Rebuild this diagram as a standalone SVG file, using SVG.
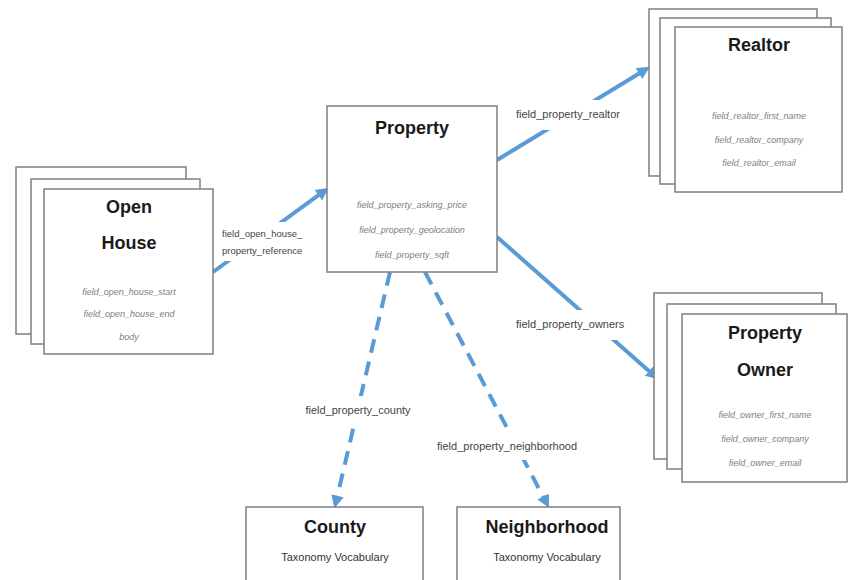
<svg xmlns="http://www.w3.org/2000/svg" width="848" height="580" viewBox="0 0 848 580">
<style>
.box{fill:#fff;stroke:#7f7f7f;stroke-width:1.5}
.title{font-family:"Liberation Sans",Arial,sans-serif;font-weight:bold;font-size:18px;fill:#1a1a1a;text-anchor:middle}
.field{font-family:"Liberation Sans",Arial,sans-serif;font-style:italic;font-size:9px;fill:#808080;text-anchor:middle}
.sub{font-family:"Liberation Sans",Arial,sans-serif;font-size:11px;fill:#333;text-anchor:middle}
.lbl{font-family:"Liberation Sans",Arial,sans-serif;font-size:11px;fill:#444}
.edge{fill:none;stroke:#5b9bd5;stroke-width:4}
.dash{stroke-dasharray:14 9}
.bg{fill:#fff}
</style>
<defs>
<marker id="ah" viewBox="0 0 10 10" refX="0.5" refY="5" markerWidth="3.2" markerHeight="3.2" orient="auto" markerUnits="strokeWidth">
<path d="M0,0 L10,5 L0,10 z" fill="#5b9bd5"/>
</marker>
</defs>
<g id="connectors">
<line class="edge" x1="213" y1="272" x2="318.9" y2="194.9" marker-end="url(#ah)"/>
<line class="edge" x1="497" y1="160" x2="639.5" y2="73.2" marker-end="url(#ah)"/>
<line class="edge" x1="497" y1="237" x2="649.5" y2="371.4" marker-end="url(#ah)"/>
<line class="edge dash" x1="390" y1="272" x2="337.3" y2="496.3" marker-end="url(#ah)"/>
<line class="edge dash" x1="425" y1="272" x2="543.4" y2="497.1" marker-end="url(#ah)"/>
<rect class="bg" x="218" y="222" width="86" height="39"/>
<text class="lbl" x="222" y="237" style="font-size:9.5px">field_open_house_</text>
<text class="lbl" x="222" y="254" style="font-size:9.5px">property_reference</text>
<rect class="bg" x="511" y="100" width="124" height="30"/>
<text class="lbl" x="516" y="118">field_property_realtor</text>
<rect class="bg" x="511" y="310" width="120" height="30"/>
<text class="lbl" x="516" y="328">field_property_owners</text>
<rect class="bg" x="294" y="396" width="128" height="28"/>
<text class="lbl" x="358" y="414" text-anchor="middle">field_property_county</text>
<rect class="bg" x="434" y="432" width="162" height="28"/>
<text class="lbl" x="437" y="450">field_property_neighborhood</text>
</g>
<g id="property">
<rect class="box" x="327" y="106" width="170" height="166"/>
<text class="title" x="412" y="134">Property</text>
<text class="field" x="412" y="208">field_property_asking_price</text>
<text class="field" x="412" y="233">field_property_geolocation</text>
<text class="field" x="412" y="258">field_property_sqft</text>
</g>
<g id="realtor">
<rect class="box" x="649" y="9" width="168" height="167"/>
<rect class="box" x="660" y="18" width="171" height="166"/>
<rect class="box" x="675" y="27" width="167" height="165"/>
<text class="title" x="759" y="51">Realtor</text>
<text class="field" x="759" y="119">field_realtor_first_name</text>
<text class="field" x="759" y="143">field_realtor_company</text>
<text class="field" x="759" y="166">field_realtor_email</text>
</g>
<g id="open-house">
<rect class="box" x="16" y="167" width="170" height="167"/>
<rect class="box" x="31" y="179" width="169" height="165"/>
<rect class="box" x="44" y="189" width="169" height="165"/>
<text class="title" x="129" y="213">Open</text>
<text class="title" x="129" y="249">House</text>
<text class="field" x="129" y="295">field_open_house_start</text>
<text class="field" x="129" y="317">field_open_house_end</text>
<text class="field" x="129" y="340">body</text>
</g>
<g id="property-owner">
<rect class="box" x="654" y="293" width="168" height="166"/>
<rect class="box" x="667" y="304" width="169" height="165"/>
<rect class="box" x="682" y="314" width="165" height="168"/>
<text class="title" x="765" y="339">Property</text>
<text class="title" x="765" y="376">Owner</text>
<text class="field" x="765" y="418">field_owner_first_name</text>
<text class="field" x="765" y="442">field_owner_company</text>
<text class="field" x="765" y="466">field_owner_email</text>
</g>
<g id="county">
<rect class="box" x="246" y="507" width="177" height="85"/>
<text class="title" x="335" y="533">County</text>
<text class="sub" x="335" y="561">Taxonomy Vocabulary</text>
</g>
<g id="neighborhood">
<rect class="box" x="457" y="507" width="163" height="85"/>
<text class="title" x="547" y="533">Neighborhood</text>
<text class="sub" x="547" y="561">Taxonomy Vocabulary</text>
</g>
</svg>
